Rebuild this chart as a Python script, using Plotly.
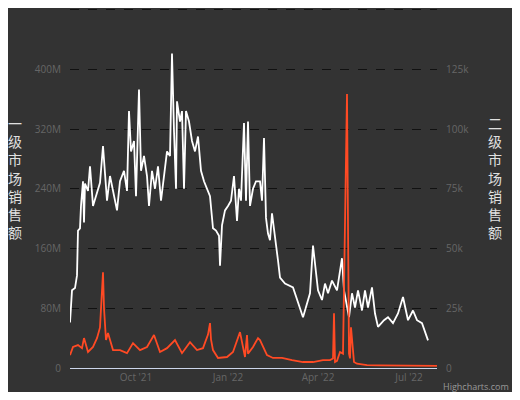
import pandas as pd
import plotly.graph_objects as go

start_date = "2021-07-27"
# day offsets from start and values (millions)
primary_days = [0,2,5,7,8,10,11,13,14,15,18,20,23,26,30,33,37,40,43,47,50,54,57,59,61,64,66,69,71,74,77,79,82,85,88,91,94,97,100,102,104,106,107,110,112,114,116,119,122,125,128,131,134,137,140,143,146,149,150,152,155,158,161,164,167,169,171,174,176,178,180,183,186,190,192,194,196,198,200,202,205,208,210,215,223,227,233,240,243,248,252,255,258,262,267,272,274,279,282,285,288,292,295,298,302,305,308,314,318,323,328,333,338,343,347,352,355,358,362,365,367]
primary_vals = [61,104,107,124,184,187,217,250,195,247,237,270,217,230,248,297,224,257,237,211,250,264,237,344,290,304,230,373,264,284,257,217,264,240,270,224,257,290,284,421,317,240,357,330,344,240,344,330,304,290,310,264,250,240,230,187,184,177,137,191,211,217,224,257,197,240,224,328,224,330,217,240,250,250,224,308,201,180,171,207,171,144,121,113,108,91,68,100,164,104,91,113,100,117,104,147,104,68,100,81,104,77,104,81,108,73,55,64,68,60,73,95,64,77,64,60,47,37]
secondary_days = [0,3,8,12,14,18,23,27,30,32,33,34,36,38,43,50,57,63,70,77,84,90,97,105,112,120,127,133,138,140,141,143,148,157,163,170,175,177,178,183,188,190,197,203,212,222,233,243,253,260,263,264,265,267,270,273,277,279,280,281,284,287,297,310,330,350,367]
secondary_vals = [5.4,8.8,9.6,8.3,12.5,6.7,8.8,12.5,17,30,40,25,11.7,14.6,7.5,7.5,6.2,10.4,7.5,8.8,13.8,6.7,8.3,11.7,6.2,10.8,7.5,8.3,14,18.8,12,7.5,4.2,4.6,6.7,15,4.6,13.8,6,8.8,12.5,11.7,5.4,4.2,4.2,3.3,2.5,2.5,3.3,3.3,4,22.9,2.5,3,6.7,6,114.6,6,4,17,2.5,1.8,1.2,1.1,1.0,1.0,0.9]

base = pd.Timestamp(start_date)
px = [base + pd.Timedelta(days=d) for d in primary_days]
sx = [base + pd.Timedelta(days=d) for d in secondary_days]

left_ticks = [0, 80, 160, 240, 320, 400, 480]
left_text = ["0", "80M", "160M", "240M", "320M", "400M", ""]
right_ticks = [0, 25, 50, 75, 100, 125, 150]
right_text = ["0", "25k", "50k", "75k", "100k", "125k", ""]
x_ticks = ["2021-10-01", "2022-01-01", "2022-04-01", "2022-07-01"]
x_text = ["Oct '21", "Jan '22", "Apr '22", "Jul '22"]

fig = go.Figure()
fig.add_trace(go.Scatter(x=px, y=primary_vals, mode="lines",
                         line=dict(color="#ffffff", width=1.8), yaxis="y"))
fig.add_trace(go.Scatter(x=sx, y=secondary_vals, mode="lines",
                         line=dict(color="#ff4a24", width=1.8), yaxis="y2"))

font = "Open Sans, DejaVu Sans, sans-serif"
fig.update_layout(
    width=504, height=384, showlegend=False,
    paper_bgcolor="#333333", plot_bgcolor="#333333",
    margin=dict(l=62, r=75, t=0, b=24),
    font=dict(family=font, color="#666666", size=10),
    xaxis=dict(range=[base, base + pd.Timedelta(days=367)],
               tickvals=x_ticks, ticktext=x_text, showgrid=False,
               showline=True, linecolor="#ccd6eb", linewidth=1,
               ticks="", zeroline=False, tickfont=dict(size=10, color="#666666")),
    yaxis=dict(range=[0, 482], tickvals=left_ticks, ticktext=left_text,
               gridcolor="#111111", griddash="dash", gridwidth=1,
               zeroline=False, ticklabelstandoff=8),
    yaxis2=dict(range=[0, 150.625], tickvals=right_ticks, ticktext=right_text,
                overlaying="y", side="right", showgrid=False, zeroline=False,
                ticklabelstandoff=8),
)
title = "<br>".join("一级市场销售额")
title2 = "<br>".join("二级市场销售额")
fig.add_annotation(text=title, x=0, xshift=-64, y=0.53, xref="paper", yref="paper", showarrow=False,
                   font=dict(size=14, color="#e0e0e0", family="Noto Sans CJK SC"), align="center")
fig.add_annotation(text=title2, x=1, xshift=67, y=0.53, xref="paper", yref="paper", showarrow=False,
                   font=dict(size=14, color="#e0e0e0", family="Noto Sans CJK SC"), align="center")
fig.add_annotation(text="Highcharts.com", x=1.0, y=0, xref="paper", yref="paper",
                   xanchor="right", yanchor="top", showarrow=False,
                   font=dict(size=9, color="#999999"), xshift=74, yshift=-10)
fig.write_html("out.html")
